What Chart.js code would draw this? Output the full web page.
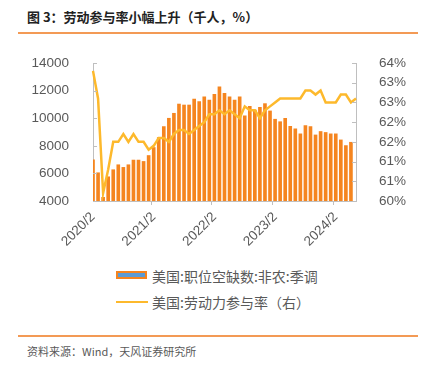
<!DOCTYPE html>
<html><head><meta charset="utf-8">
<script src="https://cdn.jsdelivr.net/npm/chart.js@4.4.1/dist/chart.umd.min.js"></script>
<style>
body{margin:0;width:423px;height:366px;background:#fff;position:relative;overflow:hidden;font-family:"Noto Sans CJK SC","Noto Sans",sans-serif;}
#title{position:absolute;left:27px;top:9px;font-size:13px;line-height:16px;font-weight:bold;color:#222;white-space:nowrap;}
.rule{position:absolute;left:18px;width:400px;height:2px;background:#F39A55;}
#chartbox{position:absolute;left:0;top:0;width:423px;height:262px;}
.lg{position:absolute;left:152px;font-size:14px;line-height:18px;color:#595959;white-space:nowrap;}
#sw1{position:absolute;left:116px;top:271px;width:27px;height:4px;border:2px solid #F5841F;background:#5B9BD5;}
#sw2{position:absolute;left:116px;top:301px;width:32px;height:2px;background:#FDB92C;}
#footer{position:absolute;left:27px;top:343px;font-size:11px;line-height:16px;color:#595959;white-space:nowrap;}
</style></head>
<body>
<div id="title">图 3：劳动参与率小幅上升（千人，%）</div>
<div class="rule" style="top:32px"></div>
<div id="chartbox"><canvas id="c" width="423" height="262"></canvas></div>
<div id="sw1"></div><div class="lg" style="top:267px">美国:职位空缺数:非农:季调</div>
<div id="sw2"></div><div class="lg" style="top:293px">美国:劳动力参与率（右）</div>
<div class="rule" style="top:335px"></div>
<div id="footer">资料来源：Wind，天风证券研究所</div>
<script>
const months = ["2020/2","2020/3","2020/4","2020/5","2020/6","2020/7","2020/8","2020/9","2020/10","2020/11","2020/12","2021/1",
"2021/2","2021/3","2021/4","2021/5","2021/6","2021/7","2021/8","2021/9","2021/10","2021/11","2021/12","2022/1",
"2022/2","2022/3","2022/4","2022/5","2022/6","2022/7","2022/8","2022/9","2022/10","2022/11","2022/12","2023/1",
"2023/2","2023/3","2023/4","2023/5","2023/6","2023/7","2023/8","2023/9","2023/10","2023/11","2023/12","2024/1",
"2024/2","2024/3","2024/4","2024/5","2024/6"];
const tickLabels = ["2020/2","2021/2","2022/2","2023/2","2024/2"];
const jobOpenings = [7010,6070,4290,5780,6290,6650,6460,6650,6990,6990,6890,7320,
7900,8620,9410,10020,10380,11050,10980,10980,11410,11220,11580,11340,
11750,12300,11830,11580,11340,11580,10190,10890,10620,10810,11080,10550,
9950,9770,10020,9440,9250,8890,9490,9410,8810,9060,8990,8890,
8890,8450,8040,8280,null];
const participationRate = [63.3,62.6,60.2,60.8,61.5,61.5,61.7,61.5,61.7,61.5,61.5,61.3,
61.4,61.6,61.6,61.5,61.7,61.8,61.8,61.7,61.8,61.9,62.0,62.2,
62.2,62.3,62.2,62.3,62.2,62.1,62.4,62.3,62.3,62.1,62.3,62.4,
62.5,62.6,62.6,62.6,62.6,62.6,62.8,62.8,62.7,62.8,62.5,62.5,
62.5,62.7,62.7,62.5,62.6];
const leftTicks = [4000,6000,8000,10000,12000,14000];
const rightTicks = [60,60.5,61,61.5,62,62.5,63,63.5];

const AXIS = '#BFBFBF', TXT = '#595959';
const tickFont = {family:'"Liberation Sans", Arial, sans-serif', size:13.5};

const innerTicks = {
  id:'innerTicks',
  afterDraw(chart){
    const c = chart.ctx, a = chart.chartArea;
    c.save(); c.strokeStyle = AXIS; c.lineWidth = 1;
    ['y','y1'].forEach(id=>{
      const s = chart.scales[id];
      const left = id === 'y';
      const x0 = left ? a.left : a.right;
      s.ticks.forEach((t,i)=>{
        const y = Math.round(s.getPixelForTick(i)) + 0.5;
        c.beginPath(); c.moveTo(x0, y); c.lineTo(left ? x0 + 4 : x0 - 4, y); c.stroke();
      });
    });
    c.restore();
  }
};

new Chart(document.getElementById('c'), {
  data: {
    labels: months,
    datasets: [
      {type:'line', label:'美国:劳动力参与率（右）', data:participationRate, yAxisID:'y1',
       borderColor:'#FDB92C', borderWidth:2.5, pointRadius:0, tension:0, order:0},
      {type:'bar', label:'美国:职位空缺数:非农:季调', data:jobOpenings, yAxisID:'y',
       backgroundColor:'#F5851F', barPercentage:0.72, categoryPercentage:1, order:1}
    ]
  },
  options: {
    responsive:false, animation:false,
    layout:{padding:{top:63, left:0, right:0, bottom:0}},
    plugins:{legend:{display:false}, tooltip:{enabled:false}},
    scales:{
      x:{
        offset:false,
        border:{color:AXIS, width:1},
        grid:{display:true, drawOnChartArea:false, drawTicks:true, tickLength:4,
              color:(ctx)=> (ctx.tick && tickLabels.includes(months[ctx.index])) ? AXIS : 'rgba(0,0,0,0)'},
        ticks:{autoSkip:false, maxRotation:45, minRotation:45, color:TXT, font:tickFont, padding:4,
               callback:(v,i)=> tickLabels.includes(months[i]) ? months[i] : ''},
        afterFit(s){ s.height = 61; }
      },
      y:{
        position:'left', min:4000, max:14000,
        border:{color:AXIS, width:1},
        grid:{display:false},
        afterBuildTicks(s){ s.ticks = leftTicks.map(v=>({value:v})); },
        ticks:{color:TXT, font:tickFont, padding:16, callback:(v)=> String(v)},
        afterFit(s){ s.width = 93; }
      },
      y1:{
        position:'right', min:60, max:63.5,
        border:{color:AXIS, width:1},
        grid:{display:false},
        afterBuildTicks(s){ s.ticks = rightTicks.map(v=>({value:v})); },
        ticks:{color:TXT, font:tickFont, padding:15, callback:(v)=> Math.round(v) + '%'},
        afterFit(s){ s.width = 67; }
      }
    }
  },
  plugins:[innerTicks]
});
</script>
</body></html>
